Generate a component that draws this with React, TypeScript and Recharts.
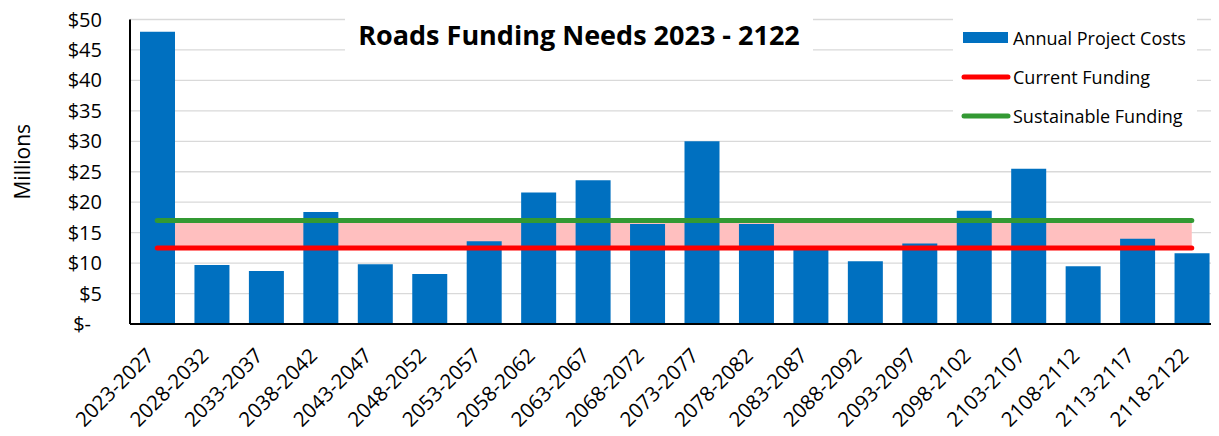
import React from "react";
import {
  ComposedChart,
  Bar,
  Line,
  Area,
  XAxis,
  YAxis,
  CartesianGrid,
  Legend,
} from "recharts";

const periods = [
  "2023-2027", "2028-2032", "2033-2037", "2038-2042", "2043-2047",
  "2048-2052", "2053-2057", "2058-2062", "2063-2067", "2068-2072",
  "2073-2077", "2078-2082", "2083-2087", "2088-2092", "2093-2097",
  "2098-2102", "2103-2107", "2108-2112", "2113-2117", "2118-2122",
];

const annualProjectCosts = [
  48.0, 9.7, 8.7, 18.4, 9.8, 8.2, 13.6, 21.6, 23.6, 16.4,
  30.0, 16.4, 12.6, 10.3, 13.2, 18.6, 25.5, 9.5, 14.0, 11.6,
];

const currentFunding = [
  12.5, 12.5, 12.5, 12.5, 12.5, 12.5, 12.5, 12.5, 12.5, 12.5,
  12.5, 12.5, 12.5, 12.5, 12.5, 12.5, 12.5, 12.5, 12.5, 12.5,
];

const sustainableFunding = [
  17.0, 17.0, 17.0, 17.0, 17.0, 17.0, 17.0, 17.0, 17.0, 17.0,
  17.0, 17.0, 17.0, 17.0, 17.0, 17.0, 17.0, 17.0, 17.0, 17.0,
];

const yTicks = [0, 5, 10, 15, 20, 25, 30, 35, 40, 45, 50];

const legendItems = [
  { name: "Annual Project Costs", color: "#0070C0", kind: "bar" },
  { name: "Current Funding", color: "#FF0000", kind: "line" },
  { name: "Sustainable Funding", color: "#339933", kind: "line" },
];

const title = "Roads Funding Needs 2023 - 2122";

const data = periods.map((p, i) => ({
  period: p,
  cost: annualProjectCosts[i],
  current: currentFunding[i],
  sustainable: sustainableFunding[i],
  gap: [currentFunding[i], sustainableFunding[i]],
}));

const FONT = '"Open Sans", "Noto Sans", sans-serif';

const YTick = (props: any) => {
  const { x, y, payload } = props;
  const v = payload.value;
  const label = v === 0 ? "$-" : `$${v}`;
  return (
    <text
      x={v === 0 ? x - 39 : x - 28}
      y={y}
      dy="0.35em"
      textAnchor="end"
      fontSize={20}
      fontFamily={FONT}
      fill="#000"
    >
      {label}
    </text>
  );
};

const XTick = (props: any) => {
  const { x, y, payload } = props;
  return (
    <text
      transform={`translate(${x - 2},${y + 33}) rotate(-45)`}
      textAnchor="end"
      fontSize={20.5}
      fontFamily={FONT}
      fill="#000"
    >
      {payload.value}
    </text>
  );
};

const MillionsLabel = (props: any) => {
  const vb = props.viewBox || { x: 0, y: 0, width: 0, height: 0 };
  const cx = 22.5;
  const cy = vb.y + vb.height / 2 - 10;
  return (
    <text
      x={cx}
      y={cy}
      transform={`rotate(-90, ${cx}, ${cy})`}
      textAnchor="middle"
      dy="0.35em"
      fontSize={21}
      fontFamily={FONT}
      fill="#000"
    >
      Millions
    </text>
  );
};

const LegendContent = () => (
  <div
    style={{
      background: "#fff",
      width: 244,
      height: 115,
      paddingTop: 3,
      boxSizing: "border-box",
      fontFamily: FONT,
      fontSize: 18,
      color: "#000",
    }}
  >
    {legendItems.map((it) => (
      <div
        key={it.name}
        style={{ height: 39, display: "flex", alignItems: "center" }}
      >
        <div
          style={{
            width: 60,
            display: "flex",
            alignItems: "center",
            paddingLeft: 8,
            boxSizing: "border-box",
          }}
        >
          {it.kind === "bar" ? (
            <div
              style={{
                width: 45,
                height: 11,
                marginLeft: 2,
                background: it.color,
              }}
            />
          ) : (
            <svg width={50} height={8}>
              <line
                x1={3}
                y1={4}
                x2={47}
                y2={4}
                stroke={it.color}
                strokeWidth={5}
                strokeLinecap="round"
              />
            </svg>
          )}
        </div>
        <span style={{ whiteSpace: "nowrap" }}>{it.name}</span>
      </div>
    ))}
  </div>
);

export default function App() {
  return (
    <div
      style={{
        position: "relative",
        width: 1219,
        height: 436,
        margin: "-8px 0 0 -8px",
      }}
    >
      <ComposedChart
        width={1219}
        height={436}
        data={data}
        margin={{ top: 19.5, right: 0, bottom: 0, left: 0 }}
      >
        <CartesianGrid
          vertical={false}
          stroke="#D9D9D9"
          strokeWidth={1.3}
        />
        <XAxis
          dataKey="period"
          height={112}
          interval={0}
          tickLine={false}
          tickSize={0}
          tickMargin={0}
          axisLine={{ stroke: "#000", strokeWidth: 2 }}
          tick={<XTick />}
        />
        <YAxis
          width={130}
          domain={[0, 50]}
          ticks={yTicks}
          interval={0}
          tickLine={false}
          tickSize={0}
          tickMargin={0}
          axisLine={{ stroke: "#000", strokeWidth: 2 }}
          tick={<YTick />}
          label={<MillionsLabel />}
        />
        <Area
          dataKey="gap"
          type="linear"
          fill="#FFBFBF"
          fillOpacity={1}
          stroke="none"
          isAnimationActive={false}
          legendType="none"
          activeDot={false}
          dot={false}
        />
        <Bar
          dataKey="cost"
          name="Annual Project Costs"
          fill="#0070C0"
          barSize={35}
          isAnimationActive={false}
        />
        <Line
          dataKey="current"
          name="Current Funding"
          type="linear"
          stroke="#FF0000"
          strokeWidth={5}
          strokeLinecap="round"
          dot={false}
          activeDot={false}
          isAnimationActive={false}
        />
        <Line
          dataKey="sustainable"
          name="Sustainable Funding"
          type="linear"
          stroke="#339933"
          strokeWidth={5}
          strokeLinecap="round"
          dot={false}
          activeDot={false}
          isAnimationActive={false}
        />
        <Legend
          layout="vertical"
          align="center"
          verticalAlign="middle"
          content={<LegendContent />}
          wrapperStyle={{ top: 15, left: 953, width: 244, height: 115 }}
        />
      </ComposedChart>
      <div
        style={{
          position: "absolute",
          left: 345,
          top: 15,
          width: 468,
          height: 40,
          lineHeight: "40px",
          background: "#fff",
          textAlign: "center",
          fontFamily: FONT,
          fontWeight: 700,
          fontSize: 27,
          color: "#000",
          whiteSpace: "nowrap",
        }}
      >
        {title}
      </div>
    </div>
  );
}
